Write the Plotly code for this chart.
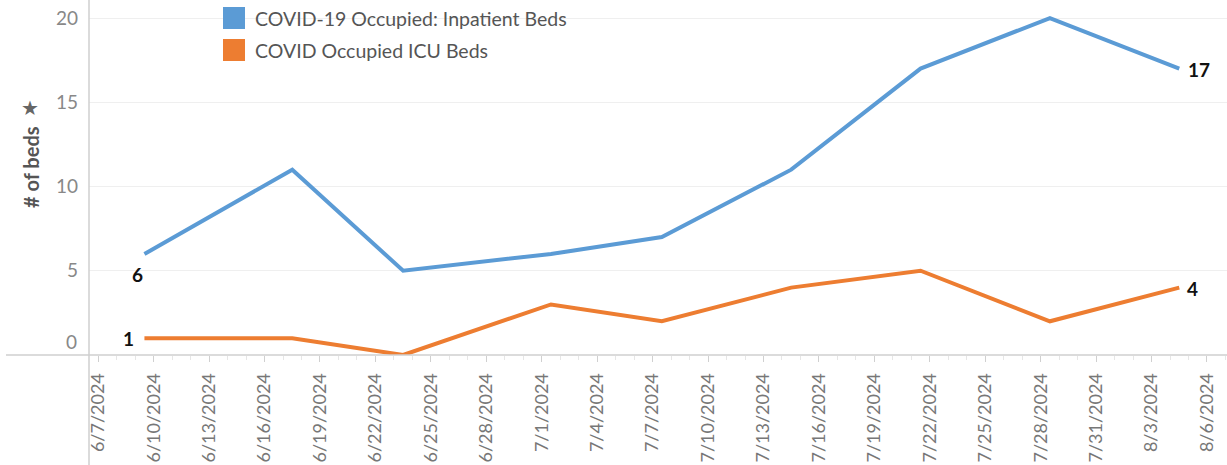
import plotly.graph_objects as go
import pandas as pd

# ---- data ----
dates = ["2024-06-09", "2024-06-17", "2024-06-23", "2024-07-01", "2024-07-07",
         "2024-07-14", "2024-07-21", "2024-07-28", "2024-08-04"]
inpatient_beds = [6, 11, 5, 6, 7, 11, 17, 20, 17]
icu_beds = [1, 1, 0, 3, 2, 4, 5, 2, 4]
series_names = ["COVID-19 Occupied: Inpatient Beds", "COVID Occupied ICU Beds"]
series_colors = ["#5b9bd5", "#ed7d31"]
y_tick_values = [0, 5, 10, 15, 20]
y_title = "# of beds"

# ---- layout constants ----
W, H = 1227, 465
ML, MR, MT, MB = 89, 0, 0, 110
PW, PH = W - ML - MR, H - MT - MB

def px_x(p):
    return (p - ML) / PW

def px_y(p):
    return (H - MB - p) / PH

x = pd.to_datetime(dates) + pd.Timedelta(hours=12)
n = len(dates)

fig = go.Figure()
for vals, name, col in zip([inpatient_beds, icu_beds], series_names, series_colors):
    fig.add_trace(go.Scatter(
        x=x, y=vals, mode="lines", name=name,
        line=dict(color=col, width=4),
        showlegend=False, cliponaxis=False, hoverinfo="skip",
    ))

annotations = []
label_font = dict(family="Lato", size=19, color="#111")
# end labels: (series, index, xanchor, xshift, yshift)
label_specs = [
    (inpatient_beds, 0, "center", -7, -21),
    (inpatient_beds, n - 1, "left", 7, -1),
    (icu_beds, 0, "right", -8, 0),
    (icu_beds, n - 1, "left", 6, -1),
]
for vals, i, xa, xs, ys in label_specs:
    annotations.append(dict(x=x[i], y=vals[i], xref="x", yref="y", text=f"<b>{vals[i]}</b>",
                            showarrow=False, xanchor=xa, yanchor="middle",
                            xshift=xs, yshift=ys, font=label_font))

# bottom tick label is nudged up to stay inside the plot (as in the source chart)
tick_text = ["" if v == y_tick_values[0] else str(v) for v in y_tick_values]
annotations.append(dict(x=0, y=y_tick_values[0], xref="paper", yref="y",
                        text=str(y_tick_values[0]), showarrow=False,
                        xanchor="right", yanchor="middle", xshift=-10, yshift=14,
                        font=dict(family="Lato", size=19, color="#888")))

shapes = [
    dict(type="line", xref="paper", yref="paper", x0=px_x(6), x1=1.0, y0=0, y1=0,
         line=dict(color="#cfcfcf", width=1.5)),
    dict(type="line", xref="paper", yref="paper", x0=0, x1=0, y0=px_y(H), y1=1.0,
         line=dict(color="#cfcfcf", width=1.5)),
]
# manual legend
legend_rows = [18, 50]
for name, col, yc in zip(series_names, series_colors, legend_rows):
    shapes.append(dict(type="rect", xref="paper", yref="paper",
                       x0=px_x(223), x1=px_x(245), y0=px_y(yc + 11), y1=px_y(yc - 11),
                       fillcolor=col, line=dict(width=0)))
    annotations.append(dict(text=name, xref="paper", yref="paper", x=px_x(253), y=px_y(yc),
                            xanchor="left", yanchor="middle", showarrow=False,
                            font=dict(family="Lato", size=19.5, color="#555")))
# y-axis title
annotations.append(dict(text=f"<b>{y_title}</b>", xref="paper", yref="paper",
                        x=px_x(31), y=px_y(167), textangle=-90, showarrow=False,
                        xanchor="center", yanchor="middle",
                        font=dict(family="Lato", size=20, color="#555")))
# pin glyph above the title
annotations.append(dict(text="\u2605", xref="paper", yref="paper",
                        x=px_x(30), y=px_y(108), showarrow=False,
                        xanchor="center", yanchor="middle",
                        font=dict(family="DejaVu Sans", size=20, color="#666")))

fig.update_layout(
    width=W, height=H,
    margin=dict(l=ML, r=MR, t=MT, b=MB),
    paper_bgcolor="white", plot_bgcolor="white",
    shapes=shapes, annotations=annotations,
    showlegend=False,
    xaxis=dict(
        range=["2024-06-06 12:00", "2024-08-07 02:00"],
        tick0="2024-06-07", dtick=3 * 86400000, tickformat="%-m/%-d/%Y",
        tickangle=-90, ticks="outside", ticklen=6, tickcolor="#d0d0d0",
        minor=dict(dtick=86400000, ticks="outside", ticklen=4, tickcolor="#e6e6e6"),
        showgrid=False, zeroline=False, showline=False,
        tickfont=dict(family="Lato", size=18, color="#777"),
        ticklabelstandoff=4,
    ),
    yaxis=dict(
        range=[0, 21.07], tickvals=y_tick_values, ticktext=tick_text,
        showgrid=True, gridcolor="#efefef", gridwidth=1,
        zeroline=False, showline=False,
        tickfont=dict(family="Lato", size=19, color="#888"),
        ticklabelstandoff=10,
    ),
)

fig.write_html("out.html", config={"displayModeBar": False},
               post_script="document.body.style.margin='0';")
